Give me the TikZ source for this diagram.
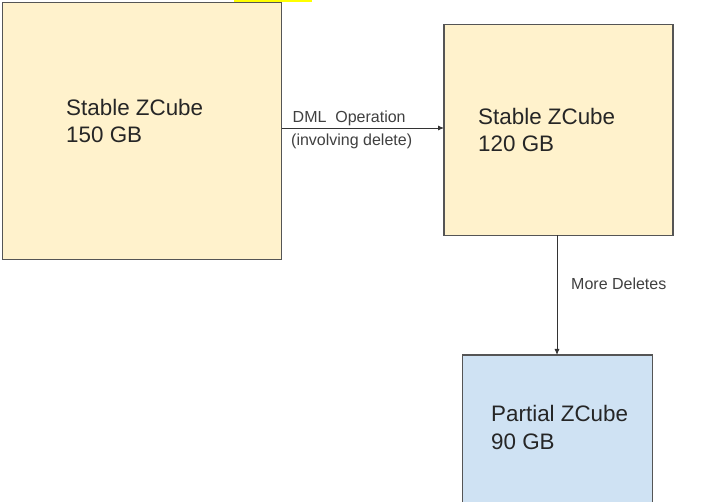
\documentclass[tikz,border=0pt]{standalone}
\usepackage{fontspec}
\setmainfont{Liberation Sans}
\usetikzlibrary{arrows.meta}
\definecolor{boxyellow}{HTML}{FFF2CC}
\definecolor{boxblue}{HTML}{CFE2F3}
\definecolor{edgegrey}{HTML}{555555}
\definecolor{hilite}{HTML}{FFFF00}
\tikzset{
  cube/.style={draw=edgegrey, line width=1.5pt, inner sep=0pt, outer sep=0pt},
  cubetext/.style={anchor=base west, inner sep=0pt, font=\fontsize{22.4}{26}\selectfont, text=black!85},
  lbl/.style={anchor=base west, inner sep=0pt, font=\fontsize{16}{18}\selectfont, text=black!75},
  conn/.style={draw=black!80, line width=0.9pt, -{Latex[length=6pt,width=5pt]}}
}
\begin{document}
\begin{tikzpicture}[x=1pt,y=-1pt]
\useasboundingbox (0,0) rectangle (721,502);
\clip (0,0) rectangle (721,502);
\fill[white] (0,0) rectangle (721,502);
\fill[hilite] (234,0) rectangle (312,2.5);
% boxes
\node[cube, fill=boxyellow, minimum width=279pt, minimum height=257pt, anchor=north west] (b1) at (2.5,2.5) {};
\node[cube, fill=boxyellow, minimum width=229pt, minimum height=211pt, anchor=north west] (b2) at (444,24.5) {};
\node[cube, fill=boxblue, minimum width=190pt, minimum height=170pt, anchor=north west] (b3) at (462.5,355) {};
% texts
\node[cubetext] (t1a) at (66,116) {Stable ZCube};
\node[cubetext] (t1b) at (66,143) {150 GB};
\node[cubetext] (t2a) at (478,125) {Stable ZCube};
\node[cubetext] (t2b) at (478,152) {120 GB};
\node[cubetext] (t3a) at (491,422) {Partial ZCube};
\node[cubetext] (t3b) at (491,449.5) {90 GB};
% connectors
\coordinate (a1s) at (b1.east |- 0,128);
\coordinate (a1e) at (b2.west |- 0,128);
\draw[conn] (a1s) -- (a1e);
\coordinate (a2s) at (557,0 |- b2.south);
\coordinate (a2e) at (557,0 |- b3.north);
\draw[conn] (a2s) -- (a2e);
% labels
\node[lbl] (l1) at (292.5,123) {DML\ \ Operation};
\node[lbl] (l2) at (291,146) {(involving delete)};
\node[lbl] (l3) at (571,290) {More Deletes};
\end{tikzpicture}
\end{document}
